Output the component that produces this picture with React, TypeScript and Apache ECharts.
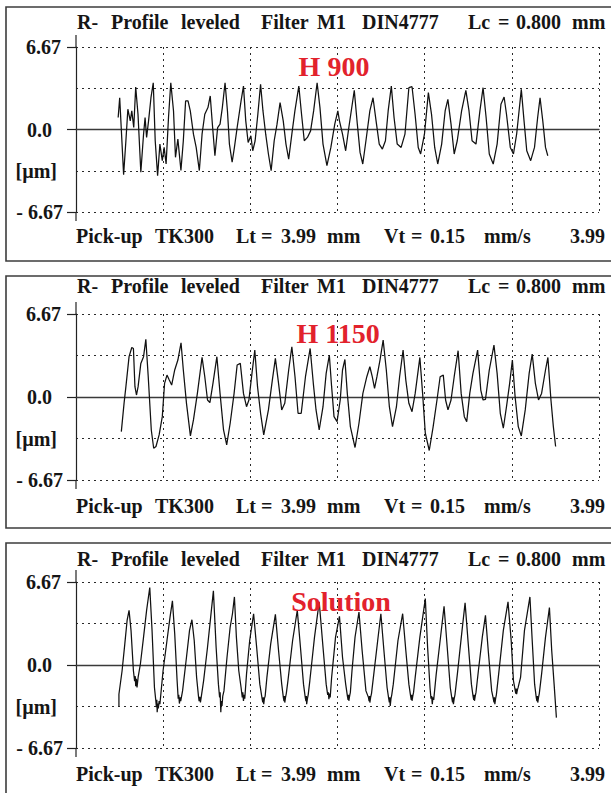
import { useEffect, useRef } from "react";
import * as echarts from "echarts";

// Roughness profiles, [position along traverse in mm, height in µm]
const h900Profile: [number, number][] = [
  [0.387,0.97],[0.401,2.57],[0.415,0.16],[0.437,-3.65],[0.458,-0.91],[0.476,1.64],[0.498,0.70],[0.512,1.50],[0.530,0.16],[0.548,3.43],[0.569,1.23],[0.595,-3.46],[0.620,-0.38],[0.634,0.97],[0.648,-0.64],[0.666,0.70],[0.688,2.57],[0.709,3.78],[0.727,-0.91],[0.749,-3.73],[0.770,-1.18],[0.792,-2.52],[0.809,-1.45],[0.827,-2.79],[0.849,0.97],[0.870,3.78],[0.895,1.50],[0.913,-2.25],[0.935,-0.78],[0.963,-3.32],[0.985,-0.91],[1.006,2.31],[1.028,2.31],[1.049,1.50],[1.078,-0.38],[1.103,-1.45],[1.132,-3.32],[1.157,-0.38],[1.182,1.23],[1.211,1.77],[1.232,2.71],[1.254,0.16],[1.275,-2.12],[1.300,0.16],[1.322,0.43],[1.343,1.77],[1.368,3.78],[1.390,1.50],[1.408,-1.18],[1.433,-2.65],[1.454,-1.45],[1.479,0.16],[1.515,2.31],[1.537,3.51],[1.558,0.70],[1.580,-1.05],[1.605,-0.51],[1.622,-1.72],[1.644,-0.91],[1.669,1.23],[1.694,3.65],[1.716,1.50],[1.741,-0.38],[1.766,-1.98],[1.791,-3.32],[1.819,-0.91],[1.845,0.43],[1.873,2.17],[1.902,0.70],[1.927,-1.18],[1.952,-2.39],[1.981,-0.38],[2.009,1.50],[2.045,3.51],[2.070,1.23],[2.095,-0.91],[2.124,-0.64],[2.153,-0.11],[2.181,1.50],[2.213,3.78],[2.239,1.77],[2.267,-1.18],[2.303,-2.92],[2.339,-1.45],[2.375,0.43],[2.403,1.50],[2.418,0.70],[2.446,-0.38],[2.475,-1.72],[2.504,0.16],[2.554,3.16],[2.582,0.43],[2.607,-1.85],[2.632,-2.79],[2.661,-0.91],[2.697,1.50],[2.726,2.57],[2.754,0.70],[2.783,-1.18],[2.812,-1.58],[2.840,-0.91],[2.865,1.50],[2.894,3.51],[2.919,0.97],[2.948,-1.18],[2.984,-1.45],[3.019,-0.38],[3.055,3.38],[3.084,3.46],[3.112,1.23],[3.141,-1.45],[3.163,-1.98],[3.198,-0.38],[3.234,2.98],[3.263,1.23],[3.292,-1.45],[3.320,-2.79],[3.356,-1.18],[3.388,1.50],[3.413,2.44],[3.442,0.43],[3.471,-1.98],[3.499,-0.91],[3.539,1.50],[3.578,3.16],[3.607,1.50],[3.635,-0.91],[3.671,-1.18],[3.707,1.50],[3.736,3.38],[3.764,0.97],[3.793,-1.98],[3.829,-2.79],[3.865,-1.18],[3.900,2.04],[3.929,2.63],[3.951,1.23],[3.986,-1.45],[4.015,-1.98],[4.044,-0.38],[4.087,3.24],[4.112,0.70],[4.137,-1.72],[4.173,-2.52],[4.208,-1.45],[4.237,0.97],[4.259,2.57],[4.284,0.70],[4.309,-1.45],[4.330,-2.12],
];

const h1150Profile: [number, number][] = [
  [0.416,-2.78],[0.441,-0.51],[0.458,0.83],[0.487,3.24],[0.512,3.98],[0.527,3.90],[0.541,0.83],[0.555,0.16],[0.570,0.83],[0.595,2.70],[0.620,3.24],[0.641,4.63],[0.663,1.63],[0.691,-2.65],[0.713,-4.12],[0.734,-3.98],[0.763,-3.05],[0.792,-1.58],[0.813,1.10],[0.835,1.76],[0.856,1.36],[0.878,0.96],[0.906,2.17],[0.935,2.97],[0.964,4.36],[0.985,2.17],[1.014,-0.51],[1.050,-3.13],[1.078,-1.84],[1.114,0.29],[1.157,3.18],[1.182,1.63],[1.207,-0.24],[1.229,-0.45],[1.257,1.10],[1.293,3.24],[1.322,0.29],[1.354,-2.65],[1.383,-3.85],[1.415,-2.11],[1.451,0.29],[1.479,2.57],[1.508,2.70],[1.537,0.29],[1.565,-0.78],[1.587,-0.24],[1.615,1.90],[1.641,3.77],[1.666,0.83],[1.694,-1.31],[1.723,-3.05],[1.766,-1.04],[1.802,1.36],[1.830,3.10],[1.859,1.10],[1.888,-1.04],[1.916,-0.51],[1.952,2.17],[1.981,4.04],[2.010,1.63],[2.038,-1.31],[2.067,-1.31],[2.106,1.63],[2.149,3.90],[2.178,1.10],[2.203,-1.04],[2.232,-2.65],[2.267,-0.78],[2.296,1.90],[2.325,3.37],[2.346,0.83],[2.368,-1.58],[2.396,-1.98],[2.425,-0.24],[2.446,2.17],[2.468,3.02],[2.490,0.29],[2.518,-2.38],[2.561,-4.06],[2.597,-2.11],[2.633,0.29],[2.669,1.63],[2.697,2.43],[2.719,1.63],[2.740,0.70],[2.762,1.63],[2.790,2.97],[2.819,4.57],[2.848,2.17],[2.876,-0.78],[2.905,-2.38],[2.941,-0.78],[2.970,1.63],[3.002,3.77],[3.027,1.36],[3.055,-0.51],[3.084,-1.18],[3.113,0.29],[3.156,3.18],[3.181,0.29],[3.206,-2.91],[3.242,-4.30],[3.278,-2.38],[3.313,-0.24],[3.342,1.63],[3.371,1.76],[3.392,-0.24],[3.414,-1.04],[3.442,-0.24],[3.471,1.63],[3.507,3.72],[3.535,0.29],[3.564,-1.58],[3.586,-1.98],[3.614,0.29],[3.643,1.90],[3.686,3.77],[3.715,0.56],[3.736,-0.24],[3.758,-0.19],[3.793,2.17],[3.836,4.17],[3.865,1.90],[3.894,-1.31],[3.922,-2.51],[3.951,-0.78],[3.980,1.10],[4.005,2.97],[4.030,0.03],[4.059,-2.38],[4.087,-3.13],[4.123,-1.04],[4.159,1.90],[4.187,3.45],[4.216,1.10],[4.245,-0.24],[4.273,0.29],[4.309,2.17],[4.331,3.18],[4.359,-0.24],[4.381,-2.38],[4.402,-3.98],
];

const solutionProfile: [number, number][] = [
  [0.394,-3.29],[0.394,-2.35],[0.423,-0.46],[0.448,1.70],[0.469,3.58],[0.487,4.39],[0.505,2.78],[0.527,-0.46],[0.538,-1.3],[0.544,-0.9],[0.548,-1.7],[0.554,-1.1],[0.560,-1.8],[0.570,-1.00],[0.591,0.08],[0.620,2.24],[0.648,4.39],[0.677,6.23],[0.698,2.78],[0.720,-1.81],[0.733,-2.9],[0.738,-3.4],[0.742,-2.8],[0.745,-3.80],[0.751,-3.1],[0.756,-3.5],[0.763,-2.9],[0.770,-3.15],[0.799,-0.46],[0.835,1.97],[0.863,3.85],[0.885,5.15],[0.906,2.51],[0.928,-1.27],[0.938,-2.7],[0.943,-2.4],[0.949,-3.10],[0.955,-2.6],[0.961,-2.9],[0.978,-2.08],[1.014,0.62],[1.042,2.78],[1.064,3.64],[1.085,1.97],[1.107,-1.00],[1.124,-2.5],[1.130,-2.9],[1.136,-2.55],[1.142,-3.0],[1.149,-2.6],[1.171,-1.27],[1.207,1.43],[1.236,3.85],[1.261,5.96],[1.286,1.43],[1.307,-1.54],[1.318,-2.6],[1.323,-2.2],[1.329,-3.80],[1.334,-2.9],[1.340,-3.3],[1.347,-2.5],[1.358,-2.08],[1.386,0.62],[1.415,3.05],[1.436,4.12],[1.454,5.47],[1.472,2.24],[1.494,-0.46],[1.515,-1.81],[1.526,-2.6],[1.531,-2.2],[1.537,-2.88],[1.543,-2.4],[1.549,-2.7],[1.565,-0.73],[1.594,1.97],[1.630,4.12],[1.658,1.43],[1.687,-1.54],[1.708,-2.7],[1.714,-3.0],[1.719,-2.6],[1.723,-3.15],[1.729,-2.7],[1.736,-2.5],[1.752,-1.00],[1.787,1.70],[1.830,4.07],[1.859,1.16],[1.888,-1.54],[1.903,-2.6],[1.909,-2.9],[1.914,-2.5],[1.916,-3.02],[1.923,-2.6],[1.930,-2.3],[1.945,-1.27],[1.988,1.97],[2.031,4.39],[2.060,1.43],[2.088,-1.54],[2.104,-2.6],[2.110,-2.9],[2.114,-2.5],[2.117,-3.15],[2.124,-2.7],[2.131,-2.4],[2.146,-1.27],[2.189,2.24],[2.232,5.07],[2.267,1.43],[2.296,-1.54],[2.310,-2.4],[2.316,-2.2],[2.321,-2.75],[2.327,-2.3],[2.333,-2.6],[2.346,-1.00],[2.382,2.24],[2.418,3.91],[2.446,0.62],[2.475,-1.54],[2.491,-2.5],[2.497,-2.8],[2.501,-2.4],[2.504,-2.88],[2.511,-2.5],[2.518,-2.2],[2.533,-0.46],[2.561,2.24],[2.597,4.26],[2.626,1.16],[2.661,-2.08],[2.684,-2.6],[2.690,-2.9],[2.694,-2.5],[2.697,-3.02],[2.704,-2.6],[2.712,-2.3],[2.733,-0.73],[2.769,1.97],[2.798,4.12],[2.826,1.16],[2.855,-1.81],[2.870,-2.7],[2.876,-3.0],[2.880,-2.6],[2.884,-3.29],[2.891,-2.7],[2.898,-2.4],[2.912,-1.54],[2.955,1.97],[2.998,4.12],[3.027,1.16],[3.055,-1.54],[3.071,-2.5],[3.077,-2.8],[3.081,-2.4],[3.084,-2.88],[3.091,-2.5],[3.098,-2.2],[3.113,-1.00],[3.156,2.24],[3.206,5.34],[3.227,1.43],[3.249,-1.81],[3.258,-2.7],[3.264,-2.5],[3.270,-3.15],[3.276,-2.6],[3.283,-2.8],[3.306,-0.73],[3.342,1.97],[3.378,4.72],[3.407,1.43],[3.435,-1.81],[3.450,-2.7],[3.456,-3.0],[3.460,-2.6],[3.464,-3.15],[3.471,-2.7],[3.478,-2.4],[3.500,-0.73],[3.543,2.78],[3.571,4.99],[3.600,1.70],[3.629,-1.54],[3.644,-2.5],[3.650,-2.8],[3.654,-2.4],[3.657,-2.88],[3.664,-2.5],[3.671,-2.2],[3.693,-0.46],[3.729,2.24],[3.758,3.99],[3.786,0.89],[3.815,-2.08],[3.830,-2.7],[3.836,-3.0],[3.840,-2.6],[3.844,-3.15],[3.851,-2.7],[3.858,-2.4],[3.879,-0.73],[3.922,2.78],[3.965,5.07],[3.994,1.97],[4.015,-1.27],[4.030,-2.0],[4.036,-2.3],[4.040,-1.9],[4.044,-2.35],[4.051,-2.0],[4.058,-1.8],[4.080,-1.00],[4.116,2.78],[4.166,5.47],[4.187,1.97],[4.209,-1.54],[4.224,-2.6],[4.230,-2.9],[4.234,-2.5],[4.238,-3.02],[4.245,-2.6],[4.252,-2.3],[4.273,-0.73],[4.309,2.24],[4.345,4.61],[4.366,1.16],[4.388,-1.54],[4.409,-4.23],
];

const profiles = [h900Profile, h1150Profile, solutionProfile];
const sampleNames = ["H 900", "H 1150", "Solution"];

// Vertical scale (µm) and evaluation window (mm)
const yLimit = 6.67;
const yStep = 3.335;
const xMax = 4.8;
const xStep = 0.8;
const yTickLabels = ["- 6.67", "[µm]", "0.0", "", "6.67"];

// Instrument header / footer lines
const headerWords = ["R-", "Profile", "leveled", "Filter", "M1", "DIN4777", "Lc", "=", "0.800", "mm"];
const footerWords = ["Pick-up", "TK300", "Lt", "=", "3.99", "mm", "Vt", "=", "0.15", "mm/s"];
const traverseLength = "3.99";

// Layout of the three report panels
const panels = [
  { top: 7, height: 254, plotTop: 47, plotHeight: 165, titleY: 22, footY: 236, nameX: 334, nameY: 66 },
  { top: 276, height: 252, plotTop: 314, plotHeight: 166, titleY: 286, footY: 506, nameX: 338, nameY: 333 },
  { top: 543, height: 262, plotTop: 582, plotHeight: 166, titleY: 559, footY: 774, nameX: 341, nameY: 601 },
];
const headerX = [77, 111, 181, 261, 317, 362, 468, 498, 516, 572];
const footerX = [76, 155, 236, 261, 281, 327, 384, 411, 430, 484];
const plotLeft = 76;
const plotWidth = 523;

const SERIF = '"Liberation Serif", "Times New Roman", serif';
const INK = "#151515";
const FONT_SIZE = 20;

export default function App() {
  const ref = useRef<HTMLDivElement>(null);

  useEffect(() => {
    if (!ref.current) return;
    const chart = echarts.init(ref.current, undefined, { renderer: "svg" });

    const dotted = { color: "#2a2a2a", width: 1, type: [2, 4] as number[] };
    const labelBase = { fontFamily: SERIF, fontWeight: "bold" as const, fontSize: FONT_SIZE, color: INK };
    const labelRich = {
      top: { ...labelBase, padding: [0, 2, 0, 0] },
      zero: { ...labelBase, padding: [0, 11, 0, 0] },
      unit: { ...labelBase, padding: [0, 6, 0, 0] },
      bottom: { ...labelBase, padding: [0, 0, 0, 0] },
    };
    const richKeys = ["bottom", "unit", "zero", "", "top"];
    const textStyle = (text: string) => ({
      text,
      fontFamily: SERIF,
      fontWeight: "bold",
      fontSize: FONT_SIZE,
      fill: INK,
      verticalAlign: "middle",
    });

    const grids: any[] = [];
    const xAxes: any[] = [];
    const yAxes: any[] = [];
    const series: any[] = [];
    const graphics: any[] = [];

    panels.forEach((p, i) => {
      grids.push({ left: plotLeft, width: plotWidth, top: p.plotTop, height: p.plotHeight });
      xAxes.push({
        gridIndex: i,
        type: "value",
        min: 0,
        max: xMax,
        interval: xStep,
        axisLine: { show: true, onZero: true, lineStyle: { color: "#3a3a3a", width: 1.3 } },
        axisTick: { show: false },
        axisLabel: { show: false },
        splitLine: { show: true, lineStyle: dotted },
      });
      // labelled axis with the dotted level lines
      yAxes.push({
        gridIndex: i,
        type: "value",
        position: "left",
        min: -yLimit,
        max: yLimit,
        interval: yStep,
        axisLine: { show: true, lineStyle: { color: "#222", width: 1.2 } },
        axisTick: { show: false },
        splitLine: { show: true, lineStyle: dotted },
        axisLabel: {
          margin: 13,
          formatter: (v: number) => {
            const k = Math.round(v / yStep) + 2;
            const t = yTickLabels[k];
            return t ? `{${richKeys[k]}|${t}}` : "";
          },
          rich: labelRich,
        },
      });
      // tick marks at the range limits and at zero
      yAxes.push({
        gridIndex: i,
        type: "value",
        position: "left",
        min: -yLimit,
        max: yLimit,
        interval: yLimit,
        axisLine: { show: false },
        axisTick: { show: true, length: 9, lineStyle: { color: "#222", width: 1.2 } },
        axisLabel: { show: false },
        splitLine: { show: false },
      });
      series.push({
        type: "line",
        xAxisIndex: i,
        yAxisIndex: i * 2,
        data: profiles[i],
        showSymbol: false,
        lineStyle: { color: "#111", width: 1.25 },
        z: 5,
      });

      graphics.push({
        type: "rect",
        shape: { x: 6, y: p.top, width: 620, height: p.height },
        style: { fill: "none", stroke: "#3c3c3c", lineWidth: 1.6 },
      });
      // axis line overshoot above and below the plot
      graphics.push({
        type: "line",
        shape: { x1: plotLeft, y1: p.plotTop - 12, x2: plotLeft, y2: p.plotTop },
        style: { stroke: "#222", lineWidth: 1.2 },
      });
      graphics.push({
        type: "line",
        shape: { x1: plotLeft, y1: p.plotTop + p.plotHeight, x2: plotLeft, y2: p.plotTop + p.plotHeight + 9 },
        style: { stroke: "#222", lineWidth: 1.2 },
      });
      headerWords.forEach((w, j) => {
        graphics.push({ type: "text", x: headerX[j], y: p.titleY, style: textStyle(w) });
      });
      footerWords.forEach((w, j) => {
        graphics.push({ type: "text", x: footerX[j], y: p.footY, style: textStyle(w) });
      });
      graphics.push({
        type: "text",
        x: 605,
        y: p.footY,
        style: { ...textStyle(traverseLength), align: "right" },
      });
      graphics.push({
        type: "text",
        x: p.nameX,
        y: p.nameY,
        z: 10,
        style: {
          text: sampleNames[i],
          fontFamily: SERIF,
          fontWeight: "bold",
          fontSize: 28,
          fill: "#e2222c",
          align: "center",
          verticalAlign: "middle",
        },
      });
    });

    chart.setOption({
      animation: false,
      backgroundColor: "#fff",
      grid: grids,
      xAxis: xAxes,
      yAxis: yAxes,
      series,
      graphic: graphics,
    });

    return () => chart.dispose();
  }, []);

  return (
    <div
      ref={ref}
      style={{ position: "absolute", left: 0, top: 0, width: 611, height: 793, background: "#fff" }}
    />
  );
}
